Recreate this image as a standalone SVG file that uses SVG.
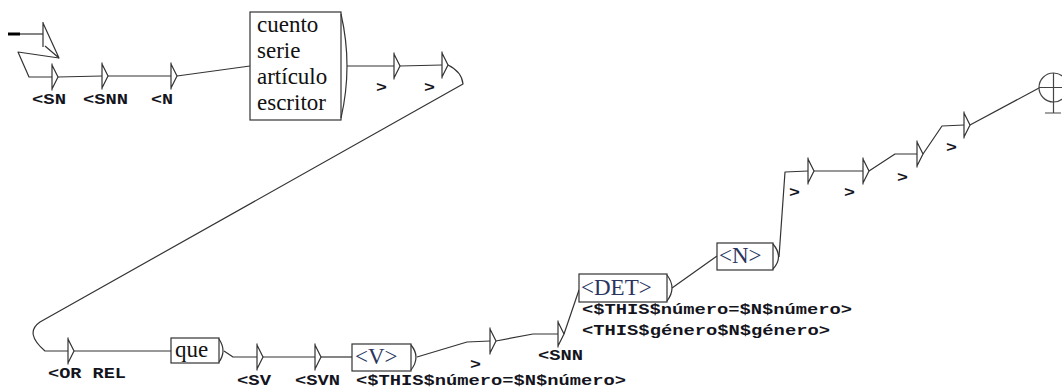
<svg xmlns="http://www.w3.org/2000/svg" xmlns:xlink="http://www.w3.org/1999/xlink" width="1062" height="390" viewBox="0 0 1062 390">
<style>
.c{fill:none;stroke:#333;stroke-width:1.2;stroke-linejoin:round}
.bx{fill:#fff;stroke:#333;stroke-width:1.2}
.lb{font-family:"Liberation Mono",monospace;font-weight:bold;font-size:15px;fill:#141420}
.bt{font-family:"Liberation Serif",serif;font-size:23px;fill:#111}
.bv{font-family:"Liberation Serif",serif;font-size:23px;fill:#2a3560}
</style>
<defs>
<path id="tri" d="M0,-13.5 L0,13.5 M0,-12 L6,0 L0,12" fill="none" stroke="#333" stroke-width="1.2"/>
</defs>
<rect width="1062" height="390" fill="#fff"/>
<g id="connectors">
<path d="M8,34 L20,34" stroke="#000" stroke-width="3" fill="none"/>
<path class="c" d="M20,34 L43,34"/>
<path class="c" d="M59,58 L18,52 L29,77 L52,77"/>
<path class="c" d="M58,77 L102,76"/>
<path class="c" d="M108,76 L171,76"/>
<path class="c" d="M177,76 L250,66"/>
<path class="c" d="M347,66 L394,66"/>
<path class="c" d="M400,66 L442,65"/>
<path class="c" d="M448,65 Q462,72 463,84 L40,322 Q24,333 45,351 L68,351"/>
<path class="c" d="M74,351 L171,351"/>
<path class="c" d="M224,351 L233,357 L257,357"/>
<path class="c" d="M263,357 L315,357"/>
<path class="c" d="M321,357 L352,357"/>
<path class="c" d="M417,357 L467,342 L490,341"/>
<path class="c" d="M496,341 L533,334 L558,334"/>
<path class="c" d="M564,334 L579,290"/>
<path class="c" d="M672,288 L717,256"/>
<path class="c" d="M779,257 L785,172 L808,171"/>
<path class="c" d="M814,171 L863,171"/>
<path class="c" d="M869,171 L895,154 L917,154"/>
<path class="c" d="M923,154 L942,126 L964,125"/>
<path class="c" d="M970,125 L1039,88"/>
</g>
<g id="initial">
<path class="c" d="M43,22 L43,47 M43,23 L59,58 L45,46"/>
</g>
<g id="n-sn"><use xlink:href="#tri" x="52" y="77"/><text class="lb" x="32" y="104" textLength="34" lengthAdjust="spacingAndGlyphs">&lt;SN</text></g>
<g id="n-snn"><use xlink:href="#tri" x="102" y="76"/><text class="lb" x="83" y="104" textLength="45" lengthAdjust="spacingAndGlyphs">&lt;SNN</text></g>
<g id="n-n"><use xlink:href="#tri" x="171" y="76"/><text class="lb" x="151" y="104" textLength="22" lengthAdjust="spacingAndGlyphs">&lt;N</text></g>
<g id="n-words">
<rect class="bx" x="250" y="12" width="91" height="108"/>
<path class="c" d="M341,14 Q353,66 341,118"/>
<text class="bt" x="257" y="32">cuento</text>
<text class="bt" x="257" y="58">serie</text>
<text class="bt" x="257" y="84">artículo</text>
<text class="bt" x="257" y="110">escritor</text>
</g>
<g id="n-gt1"><use xlink:href="#tri" x="394" y="66"/><text class="lb" x="376" y="92" textLength="11" lengthAdjust="spacingAndGlyphs">&gt;</text></g>
<g id="n-gt2"><use xlink:href="#tri" x="442" y="65"/><text class="lb" x="424" y="92" textLength="11" lengthAdjust="spacingAndGlyphs">&gt;</text></g>
<g id="n-orrel"><use xlink:href="#tri" x="68" y="351"/><text class="lb" x="48" y="378" textLength="78" lengthAdjust="spacingAndGlyphs">&lt;OR REL</text></g>
<g id="n-que">
<rect class="bx" x="171" y="338" width="48" height="25"/>
<path class="c" d="M219,339 Q227,351 219,362"/>
<text class="bt" x="175" y="357">que</text>
</g>
<g id="n-sv"><use xlink:href="#tri" x="257" y="357"/><text class="lb" x="237" y="385" textLength="34" lengthAdjust="spacingAndGlyphs">&lt;SV</text></g>
<g id="n-svn"><use xlink:href="#tri" x="315" y="357"/><text class="lb" x="295" y="385" textLength="45" lengthAdjust="spacingAndGlyphs">&lt;SVN</text></g>
<g id="n-v">
<rect class="bx" x="352" y="344" width="59" height="27"/>
<path class="c" d="M411,345 Q421,357 411,370"/>
<text class="bv" x="355" y="364" font-size="24">&lt;V&gt;</text>
<text class="lb" x="356" y="385" textLength="270" lengthAdjust="spacingAndGlyphs">&lt;$THIS$número=$N$número&gt;</text>
</g>
<g id="n-gt3"><use xlink:href="#tri" x="490" y="341"/><text class="lb" x="470" y="369" textLength="11" lengthAdjust="spacingAndGlyphs">&gt;</text></g>
<g id="n-snn2"><use xlink:href="#tri" x="558" y="334"/><text class="lb" x="538" y="360" textLength="45" lengthAdjust="spacingAndGlyphs">&lt;SNN</text></g>
<g id="n-det">
<rect class="bx" x="579" y="274" width="88" height="28"/>
<path class="c" d="M667,275 Q677,288 667,301"/>
<text class="bv" x="581" y="295">&lt;DET&gt;</text>
<text class="lb" x="582" y="314" textLength="270" lengthAdjust="spacingAndGlyphs">&lt;$THIS$número=$N$número&gt;</text>
<text class="lb" x="582" y="335" textLength="248" lengthAdjust="spacingAndGlyphs">&lt;THIS$género$N$género&gt;</text>
</g>
<g id="n-n2">
<rect class="bx" x="717" y="243" width="56" height="27"/>
<path class="c" d="M773,244 Q784,257 773,269"/>
<text class="bv" x="719" y="263">&lt;N&gt;</text>
</g>
<g id="n-gt4"><use xlink:href="#tri" x="808" y="171"/><text class="lb" x="789" y="197" textLength="11" lengthAdjust="spacingAndGlyphs">&gt;</text></g>
<g id="n-gt5"><use xlink:href="#tri" x="863" y="171"/><text class="lb" x="844" y="197" textLength="11" lengthAdjust="spacingAndGlyphs">&gt;</text></g>
<g id="n-gt6"><use xlink:href="#tri" x="917" y="154"/><text class="lb" x="897" y="182" textLength="11" lengthAdjust="spacingAndGlyphs">&gt;</text></g>
<g id="n-gt7"><use xlink:href="#tri" x="964" y="125"/><text class="lb" x="946" y="152" textLength="11" lengthAdjust="spacingAndGlyphs">&gt;</text></g>
<g id="final">
<circle cx="1053.5" cy="87.5" r="14.5" fill="none" stroke="#444" stroke-width="1.2"/>
<path d="M1039,87.5 L1068,87.5 M1053.5,73 L1053.5,113 M1045,113 L1061,113" fill="none" stroke="#444" stroke-width="1.2"/>
</g>
</svg>
